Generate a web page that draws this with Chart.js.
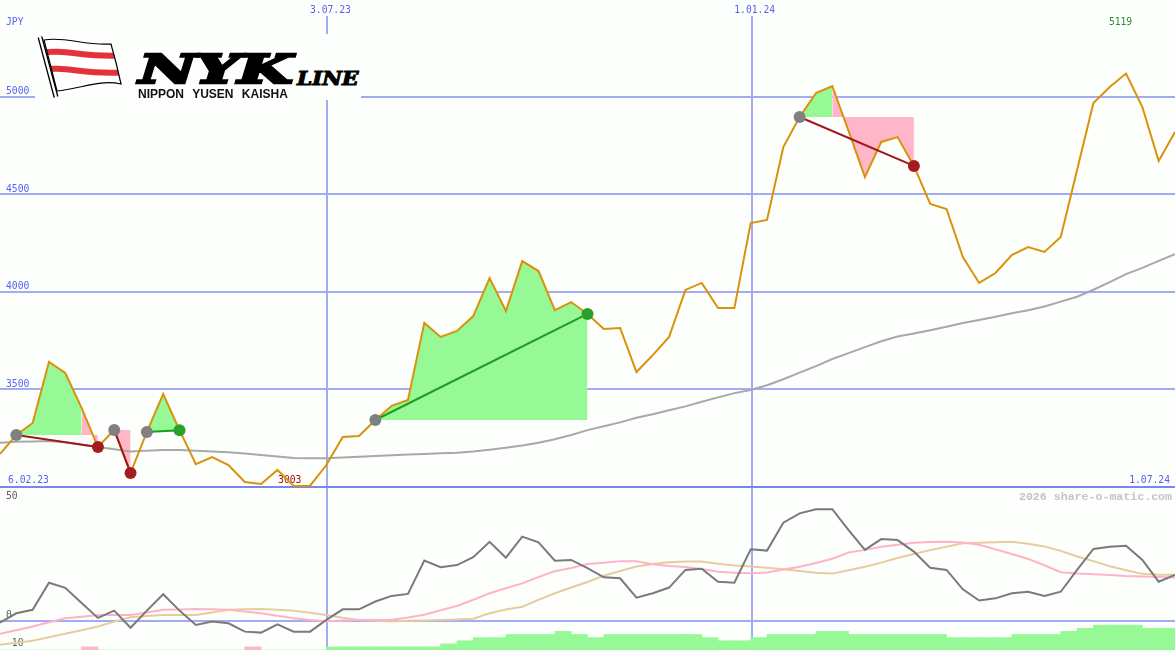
<!DOCTYPE html>
<html>
<head>
<meta charset="utf-8">
<title>NYK Line</title>
<script src="https://cdn.jsdelivr.net/npm/chart.js"></script>
<style>
  body { margin: 0; background: #fdfffd; }
  #wrap { position: relative; width: 1175px; height: 650px; overflow: hidden; background: #fdfffd; }
  #top { position: absolute; left: 0; top: 0; }
  #bottom { position: absolute; left: 0; top: 489px; }
  #logo { position: absolute; left: 35px; top: 34px; width: 326px; height: 66px; background: #fdfffd; }
  #logo svg { position: absolute; left: 0; top: 0; }
  .nyk { position: absolute; left: 104px; top: 15px; font: italic bold 40px/40px "DejaVu Serif"; letter-spacing: -1px;
         transform: scaleX(1.57); transform-origin: 0 0; -webkit-text-stroke: 2.6px #000; color: #000; white-space: nowrap; }
  .line { position: absolute; left: 262px; top: 36px; font: italic bold 18px/18px "DejaVu Serif";
          transform: scaleX(1.2); transform-origin: 0 0; -webkit-text-stroke: 1px #000; color: #000; white-space: nowrap; }
  .nys { position: absolute; left: 103px; top: 54px; font: bold 12px/12px "Liberation Sans"; word-spacing: 5px;
         color: #111; white-space: nowrap; }
</style>
</head>
<body>
<div id="wrap">
  <canvas id="top" width="1175" height="489"></canvas>
  <canvas id="bottom" width="1175" height="161"></canvas>
  <div id="logo">
    <svg width="92" height="66" viewBox="0 0 92 66">
      <defs><clipPath id="cloth"><path d="M9,6 C30,2 50,12 76,10 C80,24 83,36 86,50 C65,45 45,55 22,57 Z"/></clipPath></defs>
      <path d="M9,6 C30,2 50,12 76,10 C80,24 83,36 86,50 C65,45 45,55 22,57 Z" fill="#fff"/>
      <g clip-path="url(#cloth)" fill="none" stroke="#e4323a" stroke-width="6">
        <path d="M4,19 C30,14 52,25 92,21"/>
        <path d="M4,36 C30,31 52,42 92,38"/>
      </g>
      <path d="M9,6 C30,2 50,12 76,10 C80,24 83,36 86,50 C65,45 45,55 22,57 Z" fill="none" stroke="#000" stroke-width="1.2"/>
      <line x1="5" y1="3" x2="21" y2="63" stroke="#000" stroke-width="5"/>
      <line x1="5" y1="3" x2="21" y2="63" stroke="#fff" stroke-width="2.4"/>
    </svg>
    <div class="nyk">NYK</div>
    <div class="line">LINE</div>
    <div class="nys">NIPPON YUSEN KAISHA</div>
  </div>
</div>
<script>
// weekly closes, 73 weeks
const closes = [3168, 3265, 3327, 3640, 3583, 3404, 3204, 3291, 3070, 3281,
  3475, 3290, 3116, 3152, 3111, 3024, 3014, 3086, 3003, 3005,
  3111, 3255, 3260, 3342, 3415, 3445, 3840, 3768, 3799, 3875,
  4070, 3901, 4157, 4106, 3906, 3947, 3886, 3809, 3814, 3588,
  3675, 3768, 4009, 4045, 3916, 3916, 4352, 4368, 4742, 4896,
  5019, 5055, 4824, 4588, 4768, 4793, 4645, 4450, 4424, 4178,
  4045, 4096, 4188, 4229, 4204, 4281, 4624, 4968, 5050, 5119,
  4947, 4670, 4819];
// long moving average (grey)
const avgLong = [3226, 3230, 3232, 3234, 3228, 3215, 3204, 3192, 3180, 3185,
  3188, 3188, 3184, 3180, 3177, 3170, 3163, 3155, 3147, 3146,
  3146, 3150, 3154, 3157, 3161, 3165, 3168, 3171, 3174, 3180,
  3190, 3200, 3211, 3225, 3243, 3265, 3290, 3310, 3330, 3354,
  3372, 3392, 3412, 3436, 3458, 3480, 3496, 3520, 3551, 3585,
  3618, 3655, 3685, 3716, 3746, 3770, 3786, 3802, 3820, 3839,
  3855, 3872, 3889, 3905, 3924, 3949, 3974, 4010, 4049, 4090,
  4122, 4158, 4193];
// lower panel
const momentum = [-0.8, 3, 4.4, 15.5, 13.4, 7.2, 1.1, 4.1, -2.9, 4.1,
  10.8, 4.1, -1.8, -0.4, -1.1, -4.5, -4.9, -1.5, -4.5, -4.5,
  0.3, 4.6, 4.6, 7.8, 10.1, 10.9, 24.5, 21.8, 22.7, 25.9,
  32.2, 25.7, 34.3, 32, 24.5, 24.8, 21.4, 17.7, 17.3, 9.4,
  11.2, 13.5, 20.7, 21.2, 15.9, 15.5, 29.1, 28.6, 40, 43.8,
  45.5, 45.5, 37, 28.9, 33.3, 32.9, 28.2, 21.6, 20.7, 12.8,
  8.2, 9.1, 11.2, 11.8, 10.1, 11.8, 20.7, 29.3, 30.2, 30.6,
  24.8, 15.9, 18.7];
const signalPink = [-5.4, -3.9, -2.4, -0.7, 1.0, 1.6, 2.3, 2.3, 2.3, 3.3,
  4.4, 4.5, 4.7, 4.6, 4.4, 3.7, 3.0, 2.0, 1.0, 0.3,
  -0.3, 0, 0.3, 0.3, 0.4, 1.3, 2.4, 4.2, 6.0, 8.5,
  11.2, 13.2, 15.2, 17.8, 20.2, 21.5, 23.1, 23.6, 24.3, 24.2,
  23.0, 22.3, 21.9, 21.1, 20.0, 19.6, 19.3, 19.7, 20.9, 22.0,
  23.5, 25.3, 27.8, 28.9, 30.2, 31.0, 31.8, 32.1, 32.2, 31.9,
  31.0, 29.1, 27.2, 25.2, 22.6, 19.8, 19.2, 18.9, 18.6, 18.2,
  18.0, 17.8, 17.6];
const signalTan = [-9.9, -9.0, -8.2, -6.8, -5.4, -3.9, -2.4, -0.4, 1.4, 1.9,
  2.3, 2.3, 2.3, 3.3, 4.4, 4.6, 4.7, 4.4, 4.0, 3.2,
  2.3, 1.2, 0.3, -0.1, -0.4, -0.1, 0.1, 0.3, 0.5, 0.8,
  3.0, 4.5, 5.7, 8.5, 11.2, 13.5, 15.8, 18.3, 20.3, 22.1,
  23.1, 23.8, 24.1, 24.1, 23.2, 22.5, 22.1, 21.6, 21.0, 20.3,
  19.6, 19.2, 20.6, 22.0, 23.7, 25.6, 27.2, 28.8, 30.2, 31.6,
  31.8, 32.0, 32.2, 31.4, 30.3, 28.5, 26.2, 24.3, 22.2, 20.6,
  19.1, 18.7, 18.7];
// trend strength per week (negative = pink)
const trend = [0, 0, 0, 0, 0, -1, 0, 0, 0, 0,
  0, 0, 0, 0, 0, -1, 0, 0, 0, 0,
  1, 1, 1, 1, 1, 1, 1, 2, 3, 4,
  4, 5, 5, 5, 6, 5, 4, 5, 5, 5,
  5, 5, 5, 4, 3, 3, 4, 5, 5, 5,
  6, 6, 5, 5, 5, 5, 5, 5, 4, 4,
  4, 4, 5, 5, 5, 6, 7, 8, 8, 8,
  7, 7];
// trades: [entry week, exit week]
const trades = [[1, 6], [7, 8], [9, 11], [23, 36], [49, 56]];

const priceTicks = [3500, 4000, 4500, 5000];
const dateWeeks = [20, 46];
const dateLabels = ['3.07.23', '1.01.24'];
const firstDate = '6.02.23';
const lastDate = '1.07.24';
const oscTicks = [50, 0, -10];

const BG = '#fdfffd';
const GRID = '#a3acf2';
const SEP = '#7a86ee';
const LABEL = '#5563ee';
const FILL_UP = '#96f996';
const FILL_DOWN = '#ffb6c9';
const WIN = '#229a22';
const LOSS = '#a3161c';

const pts = arr => arr.map((v, i) => ({ x: i, y: v }));

// ---- upper panel ----
const fillSets = [];
trades.forEach(([a, b]) => {
  const entry = closes[a];
  let start = a;
  for (let i = a + 1; i <= b; i++) {
    const up = closes[i] >= entry;
    if (i === b || (closes[i + 1] >= entry) !== up) {
      fillSets.push({
        data: pts(closes).slice(start, i + 1),
        borderColor: 'rgba(0,0,0,0)',
        backgroundColor: up ? FILL_UP : FILL_DOWN,
        fill: { value: entry },
        order: 5
      });
      start = i;
    }
  }
});

const tradeLines = trades.map(([a, b]) => ({
  data: [{ x: a, y: closes[a] }, { x: b, y: closes[b] }],
  borderColor: closes[b] >= closes[a] ? WIN : LOSS,
  borderWidth: 2,
  order: 1
}));

const dots = {
  data: trades.flatMap(([a, b]) => [{ x: a, y: closes[a] }, { x: b, y: closes[b] }]),
  showLine: false,
  pointRadius: 6,
  pointBorderWidth: 0,
  pointBackgroundColor: trades.flatMap(([a, b]) => ['#808080', closes[b] >= closes[a] ? '#2aa02a' : '#a51c1c']),
  order: 0
};

const topDeco = {
  id: 'topDeco',
  beforeDatasetsDraw(chart) {
    const { ctx, width, height, scales: { x, y } } = chart;
    ctx.save();
    ctx.lineWidth = 2;
    ctx.strokeStyle = GRID;
    priceTicks.forEach(v => {
      const py = Math.round(y.getPixelForValue(v));
      ctx.beginPath(); ctx.moveTo(0, py); ctx.lineTo(width, py); ctx.stroke();
    });
    dateWeeks.forEach(w => {
      const px = Math.round(x.getPixelForValue(w)) + 1;
      ctx.beginPath(); ctx.moveTo(px, 16); ctx.lineTo(px, height); ctx.stroke();
    });
    const by = Math.round(y.getPixelForValue(3000));
    ctx.strokeStyle = SEP;
    ctx.beginPath(); ctx.moveTo(0, by); ctx.lineTo(width, by); ctx.stroke();

    ctx.font = '9.7px "DejaVu Sans Mono"';
    ctx.fillStyle = LABEL;
    ctx.textAlign = 'left';
    ctx.fillText('JPY', 6, 25);
    priceTicks.forEach(v => ctx.fillText(String(v), 6, y.getPixelForValue(v) - 2.5));
    ctx.fillText(firstDate, 8, 483);
    ctx.textAlign = 'right';
    ctx.fillText(lastDate, 1170, 483);
    ctx.textAlign = 'center';
    dateWeeks.forEach((w, k) => ctx.fillText(dateLabels[k], x.getPixelForValue(w) + 4, 13.3));

    const lo = closes.indexOf(Math.min(...closes));
    const hi = closes.indexOf(Math.max(...closes));
    ctx.fillStyle = '#a01010';
    ctx.fillText(String(closes[lo]), x.getPixelForValue(lo) - 4, 483);
    ctx.fillStyle = '#2e8b2e';
    ctx.fillText(String(closes[hi]), x.getPixelForValue(hi) - 5.5, 25);
    ctx.restore();
  }
};

const bgPlugin = {
  id: 'bg',
  beforeDraw(chart) {
    const { ctx, width, height } = chart;
    ctx.save();
    ctx.fillStyle = BG;
    ctx.fillRect(0, 0, width, height);
    ctx.restore();
  }
};

new Chart(document.getElementById('top'), {
  type: 'line',
  data: {
    datasets: [
      dots,
      ...tradeLines,
      { data: pts(closes), borderColor: '#d9920a', borderWidth: 2, order: 2 },
      { data: pts(avgLong), borderColor: '#a8a8a8', borderWidth: 2, order: 3 },
      ...fillSets
    ]
  },
  options: {
    responsive: false,
    animation: false,
    devicePixelRatio: 1,
    layout: { padding: 0, autoPadding: false },
    elements: { point: { radius: 0 }, line: { tension: 0 } },
    plugins: { legend: { display: false }, tooltip: { enabled: false } },
    events: [],
    scales: {
      x: { type: 'linear', min: 0, max: 72, offset: false, display: false },
      y: { min: 2988.2, max: 5496, display: false }
    }
  },
  plugins: [bgPlugin, topDeco]
});

// ---- lower panel ----
const bottomDeco = {
  id: 'bottomDeco',
  beforeDatasetsDraw(chart) {
    const { ctx, width, height, scales: { x, y } } = chart;
    ctx.save();
    ctx.lineWidth = 2;
    ctx.strokeStyle = GRID;
    const zy = Math.round(y.getPixelForValue(0));
    ctx.beginPath(); ctx.moveTo(0, zy); ctx.lineTo(width, zy); ctx.stroke();
    dateWeeks.forEach(w => {
      const px = Math.round(x.getPixelForValue(w)) + 1;
      ctx.beginPath(); ctx.moveTo(px, 0); ctx.lineTo(px, height); ctx.stroke();
    });
    ctx.font = '9.7px "DejaVu Sans Mono"';
    ctx.fillStyle = '#5c5c5c';
    oscTicks.forEach(v => ctx.fillText(String(v), 6, y.getPixelForValue(v) + (v === 0 ? -2.5 : 1)));
    ctx.font = 'bold 11.6px "Liberation Mono"';
    ctx.fillStyle = '#c4c4c4';
    ctx.textAlign = 'right';
    ctx.fillText('2026 share-o-matic.com', 1172, 11);
    ctx.restore();
  }
};

new Chart(document.getElementById('bottom'), {
  type: 'line',
  data: {
    datasets: [
      { data: pts(momentum), borderColor: '#7a7a7a', borderWidth: 2, order: 0 },
      { data: pts(signalPink), borderColor: '#ffb3c9', borderWidth: 2, order: 1 },
      { data: pts(signalTan), borderColor: '#e6cc9e', borderWidth: 2, order: 2 },
      {
        type: 'bar',
        yAxisID: 'yb',
        data: trend.map((v, i) => ({ x: i + 0.5, y: Math.abs(v) })),
        backgroundColor: trend.map(v => (v < 0 ? FILL_DOWN : FILL_UP)),
        borderWidth: 0,
        barPercentage: 1,
        categoryPercentage: 1,
        order: 3
      }
    ]
  },
  options: {
    responsive: false,
    animation: false,
    devicePixelRatio: 1,
    layout: { padding: 0, autoPadding: false },
    elements: { point: { radius: 0 }, line: { tension: 0 } },
    plugins: { legend: { display: false }, tooltip: { enabled: false } },
    events: [],
    scales: {
      x: { type: 'linear', min: 0, max: 72, offset: false, display: false },
      y: { min: -12, max: 53.76, display: false },
      yb: { axis: 'y', min: 0, max: 51.9, display: false }
    }
  },
  plugins: [bgPlugin, bottomDeco]
});
</script>
</body>
</html>
